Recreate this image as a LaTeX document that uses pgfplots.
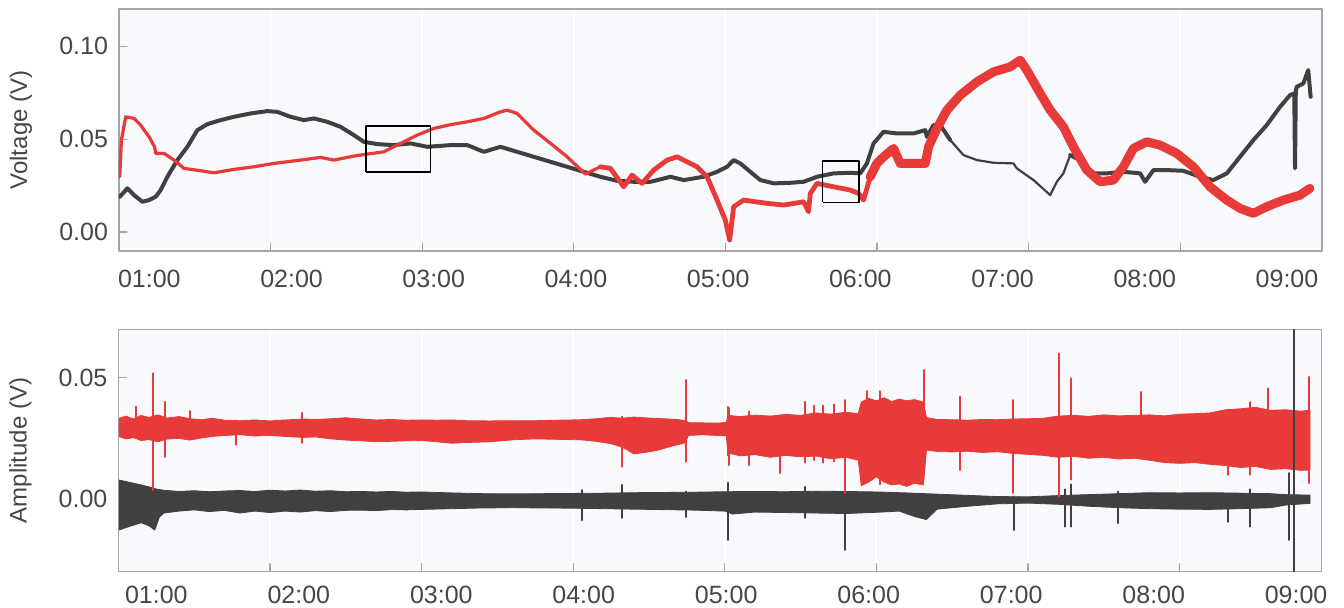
\documentclass[border=0pt]{standalone}
\usepackage{fontspec}
\setmainfont{Liberation Sans}
\usepackage{pgfplots}
\pgfplotsset{compat=1.18}

\definecolor{trace1}{RGB}{233,58,58}
\definecolor{trace2}{RGB}{64,64,64}
\definecolor{framec}{RGB}{165,165,165}
\definecolor{bgc}{RGB}{248,249,252}
\definecolor{txt}{RGB}{70,70,70}

\pgfplotsset{
  panel/.style={
    scale only axis, width=601.5pt,
    anchor=south west,
    xmin=1, xmax=8.935,
    axis background/.style={fill=bgc},
    axis line style={draw=framec, line width=0.6pt},
    tick style={draw=framec, line width=0.6pt},
    tick align=inside, xtick pos=bottom, ytick pos=left,
    major tick length=4pt,
    scaled ticks=false,
    xtick={2,...,8}, xticklabels={,,,,,,},
    xmajorgrids, major grid style={white, line width=1pt},
    extra x tick style={grid=none, major tick length=0pt, tick style={draw=none}},
    extra x tick labels={01:00,02:00,03:00,04:00,05:00,06:00,07:00,08:00,09:00},
    /pgf/number format/assume math mode=true,
    ticklabel style={font=\fontsize{12.5}{14}\selectfont, text=txt},
    yticklabel style={anchor=east, inner sep=0pt, xshift=-5.3pt},
    label style={font=\fontsize{12}{14}\selectfont, text=txt},
    ylabel style={at={(axis description cs:-0.0815,0.5)}, anchor=center},
    line join=round, line cap=round,
  },
}

\begin{document}
\begin{tikzpicture}
\path[use as bounding box] (0,0) rectangle (672pt,303.5pt);

% ---------------- voltage ----------------
\begin{axis}[panel,
  at={(59.5pt,178pt)}, height=121pt,
  ymin=-0.0102, ymax=0.12,
  ytick={0,0.05,0.1}, yticklabels={0.00,0.05,0.10},
  extra x ticks={1.200,2.138,3.076,4.014,4.952,5.890,6.828,7.766,8.704},
  xticklabel style={anchor=center, yshift=-14pt},
  ylabel={Voltage (V)},
]
% channel 2 (dark)
\addplot[trace2, line width=2pt] coordinates {
(1.005,0.01898) (1.055,0.02349) (1.099,0.01989) (1.154,0.01629) (1.198,0.0172)
(1.242,0.01898) (1.275,0.02258) (1.319,0.02973) (1.385,0.03871) (1.451,0.04586)
(1.517,0.05484) (1.583,0.05806) (1.670,0.06021) (1.758,0.06199) (1.868,0.06381)
(1.978,0.06505) (2.044,0.06467) (2.132,0.06199) (2.220,0.06021) (2.285,0.06113)
(2.374,0.0593) (2.461,0.05661) (2.549,0.05215) (2.615,0.04855) (2.703,0.04731)
(2.813,0.04677) (2.923,0.04769) (3.033,0.04586) (3.187,0.04677) (3.297,0.04677)
(3.406,0.04317) (3.516,0.04586) (3.626,0.04317) (3.736,0.04048) (3.846,0.03779)
(3.956,0.03511) (4.065,0.03242) (4.175,0.02973) (4.285,0.02758) (4.395,0.02704)
(4.505,0.02704) (4.637,0.02973) (4.725,0.02796) (4.856,0.02973) (4.945,0.03242)
(5.011,0.03511) (5.054,0.03871) (5.098,0.03693) (5.164,0.03242) (5.230,0.02796)
(5.318,0.02618) (5.428,0.0265) (5.516,0.02704) (5.604,0.02973) (5.713,0.03156)
(5.823,0.03188) (5.889,0.03156) (5.933,0.03693) (5.977,0.04769) (6.043,0.05392)
(6.131,0.05306) (6.241,0.05306) (6.318,0.05484) (6.329,0.05123) (6.372,0.05752)
(6.417,0.05752) (6.483,0.04946)
};
\addplot[trace2, line width=1.1pt] coordinates {
(6.483,0.04946) (6.570,0.0414) (6.659,0.03871) (6.768,0.03726) (6.900,0.03693)
(6.922,0.03425) (7.032,0.02796) (7.142,0.01989) (7.186,0.02704) (7.229,0.03156)
(7.274,0.0414)
};
\addplot[trace2, line width=2pt] coordinates {
(7.274,0.0414) (7.339,0.03871) (7.427,0.03156) (7.515,0.03156) (7.625,0.03242)
(7.735,0.03156) (7.768,0.02704) (7.823,0.03333) (7.911,0.03333) (8.020,0.03296)
(8.130,0.02973) (8.218,0.02796) (8.307,0.03156) (8.394,0.04048) (8.482,0.04946)
(8.570,0.05752) (8.658,0.06736) (8.724,0.07365) (8.752,0.07457) (8.757,0.03425)
(8.762,0.07600) (8.768,0.07811) (8.812,0.07994) (8.844,0.08709) (8.860,0.07274)
};
% channel 1 (red)
\addplot[trace1, line width=1.6pt] coordinates {
(1.005,0.02973) (1.016,0.04946) (1.044,0.06199) (1.099,0.06113) (1.143,0.05752)
(1.198,0.05123) (1.235,0.04586) (1.242,0.04231) (1.297,0.04231) (1.363,0.03871)
(1.428,0.03425) (1.539,0.03296) (1.626,0.03188) (1.758,0.03371) (1.890,0.03511)
(2.022,0.03693) (2.198,0.03871) (2.330,0.04016) (2.417,0.03871) (2.549,0.04086)
(2.637,0.04193) (2.747,0.04317) (2.857,0.04769) (2.967,0.05215) (3.076,0.05575)
(3.187,0.05779) (3.297,0.0593) (3.406,0.06113) (3.516,0.06467) (3.560,0.06559)
(3.626,0.06381) (3.736,0.05484) (3.846,0.04769) (3.956,0.04048) (4.076,0.03118)
(4.175,0.03511)
};
\addplot[trace1, line width=2.4pt] coordinates {
(4.175,0.03511) (4.241,0.03425) (4.329,0.02435) (4.384,0.03064) (4.450,0.02618)
(4.527,0.03333) (4.615,0.03871) (4.681,0.04048) (4.747,0.03779) (4.813,0.03511)
(4.879,0.02973) (4.945,0.0172) (4.999,0.00645) (5.028,-0.0043) (5.054,0.0136)
(5.120,0.0172) (5.274,0.01543) (5.384,0.01452) (5.516,0.01629) (5.548,0.01091)
(5.560,0.0208) (5.604,0.02618) (5.713,0.02435) (5.823,0.02258) (5.878,0.0208)
(5.911,0.0172) (5.955,0.02973)
};
\addplot[trace1, line width=4.5pt] coordinates {
(5.955,0.02973) (5.999,0.03693) (6.043,0.04048) (6.109,0.045) (6.153,0.03693)
(6.241,0.03693) (6.318,0.03693) (6.340,0.04586) (6.395,0.05575) (6.461,0.06559)
(6.549,0.07365) (6.659,0.0808) (6.768,0.08618) (6.878,0.08887) (6.944,0.09247)
(6.988,0.08709) (7.076,0.07457) (7.142,0.06559) (7.229,0.05661) (7.295,0.04586)
(7.384,0.03333) (7.472,0.02704) (7.559,0.02796) (7.625,0.03511) (7.691,0.045)
(7.779,0.04855) (7.867,0.04677) (7.977,0.04231) (8.086,0.03511) (8.196,0.02435)
(8.307,0.0172) (8.394,0.01274) (8.482,0.01005) (8.570,0.0136) (8.680,0.0172)
(8.790,0.01989) (8.855,0.02349)
};
% zoom boxes
\addplot[black, line width=0.8pt, line cap=butt] coordinates {
(2.631,0.0324) (3.055,0.0324) (3.055,0.057) (2.631,0.057) (2.631,0.0324)};
\addplot[black, line width=0.8pt, line cap=butt] coordinates {
(5.641,0.016) (5.881,0.016) (5.881,0.0382) (5.641,0.0382) (5.641,0.016)};
\end{axis}

% ---------------- amplitude ----------------
\begin{axis}[panel,
  at={(59.2pt,17.65pt)}, height=121.2pt,
  ymin=-0.03, ymax=0.07,
  ytick={0,0.05}, yticklabels={0.00,0.05},
  extra x ticks={1.250,2.190,3.130,4.069,5.009,5.949,6.889,7.829,8.768},
  xticklabel style={anchor=center, yshift=-11.5pt},
  ylabel={Amplitude (V)},
]
% channel 2 envelope (upper, then lower reversed)
\addplot[draw=trace2, line width=0.4pt, fill=trace2] coordinates {
(1.005,0.0078) (1.05,0.0072) (1.10,0.0065) (1.15,0.0058) (1.20,0.0050) (1.25,0.0041)
(1.30,0.0036) (1.40,0.0031) (1.50,0.0034) (1.60,0.0030) (1.70,0.0033) (1.80,0.0035)
(1.90,0.0031) (2.00,0.0036) (2.10,0.0033) (2.20,0.0037) (2.30,0.0032) (2.40,0.0034)
(2.50,0.0030) (2.60,0.0031) (2.70,0.0029) (2.80,0.0031) (2.90,0.0028) (3.00,0.0029)
(3.20,0.0025) (3.40,0.0022) (3.60,0.0021) (3.80,0.0022) (4.00,0.0023) (4.20,0.0024)
(4.40,0.0026) (4.60,0.0027) (4.80,0.0028) (5.00,0.0030) (5.20,0.0031) (5.40,0.0030)
(5.60,0.0032) (5.80,0.0031) (6.00,0.0029) (6.20,0.0025) (6.40,0.0020) (6.60,0.0015)
(6.80,0.0010) (7.00,0.0009) (7.20,0.0014) (7.40,0.0018) (7.60,0.0022) (7.80,0.0026)
(8.00,0.0025) (8.20,0.0026) (8.40,0.0024) (8.60,0.0022) (8.70,0.0018) (8.86,0.0016)
(8.86,-0.0018) (8.70,-0.0025) (8.60,-0.0036) (8.40,-0.0040) (8.20,-0.0043) (8.00,-0.0042)
(7.80,-0.0040) (7.60,-0.0036) (7.40,-0.0030) (7.20,-0.0022) (7.00,-0.0017) (6.80,-0.0020)
(6.60,-0.0030) (6.40,-0.0042) (6.33,-0.0085) (6.25,-0.0072) (6.15,-0.0050) (6.00,-0.0055)
(5.80,-0.0060) (5.60,-0.0058) (5.40,-0.0056) (5.20,-0.0054) (5.05,-0.0062) (5.00,-0.0050)
(4.80,-0.0046) (4.60,-0.0044) (4.40,-0.0042) (4.20,-0.0040) (4.00,-0.0038) (3.80,-0.0037)
(3.60,-0.0036) (3.40,-0.0037) (3.20,-0.0040) (3.00,-0.0043) (2.90,-0.0045) (2.80,-0.0044)
(2.70,-0.0048) (2.60,-0.0046) (2.50,-0.0047) (2.40,-0.0052) (2.30,-0.0048) (2.20,-0.0054)
(2.10,-0.0050) (2.00,-0.0056) (1.90,-0.0050) (1.80,-0.0058) (1.70,-0.0047) (1.60,-0.0052)
(1.50,-0.0045) (1.40,-0.0050) (1.30,-0.0058) (1.27,-0.0075) (1.24,-0.0128) (1.20,-0.0110)
(1.15,-0.0098) (1.10,-0.0108) (1.05,-0.0118) (1.005,-0.0128) (1.005,0.0078)
};
% channel 1 envelope
\addplot[draw=trace1, line width=0.4pt, fill=trace1] coordinates {
(1.005,0.0333) (1.05,0.0342) (1.10,0.0330) (1.15,0.0345) (1.20,0.0336) (1.26,0.0347)
(1.32,0.0334) (1.40,0.0340) (1.47,0.0331) (1.55,0.0327) (1.62,0.0333) (1.70,0.0325)
(1.80,0.0323) (1.90,0.0326) (2.00,0.0322) (2.10,0.0326) (2.22,0.0330) (2.30,0.0328)
(2.40,0.0331) (2.50,0.0335) (2.60,0.0330) (2.70,0.0326) (2.80,0.0328) (2.90,0.0325)
(3.00,0.0326) (3.10,0.0325) (3.20,0.0326) (3.30,0.0323) (3.45,0.0322) (3.60,0.0323)
(3.75,0.0323) (3.90,0.0325) (4.05,0.0327) (4.15,0.0331) (4.25,0.0337) (4.32,0.0333)
(4.40,0.0338) (4.50,0.0334) (4.60,0.0331) (4.70,0.0327) (4.745,0.0322) (4.76,0.0315)
(4.85,0.0314) (4.95,0.0313) (5.01,0.0316) (5.02,0.0345) (5.10,0.0340) (5.20,0.0346)
(5.30,0.0342) (5.40,0.0349) (5.50,0.0345) (5.60,0.0355) (5.70,0.0350) (5.80,0.0358)
(5.88,0.0352) (5.90,0.0400) (5.95,0.0415) (6.00,0.0405) (6.05,0.0418) (6.10,0.0402)
(6.15,0.0412) (6.20,0.0405) (6.25,0.0410) (6.31,0.0400) (6.33,0.0336) (6.40,0.0328)
(6.50,0.0327) (6.60,0.0325) (6.70,0.0328) (6.80,0.0327) (6.90,0.0330) (7.00,0.0331)
(7.10,0.0333) (7.20,0.0342) (7.30,0.0345) (7.40,0.0341) (7.50,0.0347) (7.60,0.0343)
(7.70,0.0345) (7.80,0.0347) (7.90,0.0343) (8.00,0.0350) (8.10,0.0352) (8.20,0.0355)
(8.30,0.0368) (8.40,0.0372) (8.50,0.0378) (8.60,0.0366) (8.70,0.0368) (8.80,0.0362)
(8.86,0.0367)
(8.86,0.0120) (8.80,0.0118) (8.70,0.0125) (8.60,0.0122) (8.50,0.0134) (8.40,0.0130)
(8.30,0.0138) (8.20,0.0143) (8.10,0.0150) (8.00,0.0147) (7.90,0.0150) (7.80,0.0160)
(7.70,0.0168) (7.60,0.0165) (7.50,0.0172) (7.40,0.0168) (7.30,0.0176) (7.20,0.0172)
(7.10,0.0180) (7.00,0.0184) (6.90,0.0188) (6.80,0.0195) (6.70,0.0192) (6.60,0.0197)
(6.50,0.0194) (6.40,0.0196) (6.33,0.0202) (6.31,0.0058) (6.25,0.0065) (6.20,0.0052)
(6.15,0.0062) (6.10,0.0058) (6.05,0.0070) (6.00,0.0092) (5.95,0.0070) (5.90,0.0055)
(5.88,0.0160) (5.80,0.0172) (5.70,0.0166) (5.60,0.0177) (5.50,0.0174) (5.40,0.0180)
(5.30,0.0172) (5.20,0.0183) (5.10,0.0178) (5.02,0.0190) (5.01,0.0260) (4.95,0.0262)
(4.85,0.0265) (4.76,0.0262) (4.74,0.0232) (4.65,0.0218) (4.55,0.0200) (4.45,0.0190)
(4.40,0.0186) (4.33,0.0212) (4.25,0.0228) (4.15,0.0238) (4.05,0.0244) (3.90,0.0246)
(3.75,0.0248) (3.60,0.0244) (3.45,0.0236) (3.30,0.0233) (3.20,0.0230) (3.10,0.0236)
(3.00,0.0241) (2.90,0.0240) (2.80,0.0238) (2.70,0.0236) (2.60,0.0240) (2.50,0.0243)
(2.40,0.0248) (2.30,0.0256) (2.22,0.0254) (2.10,0.0258) (2.00,0.0262) (1.90,0.0260)
(1.80,0.0265) (1.70,0.0262) (1.62,0.0258) (1.55,0.0252) (1.47,0.0243) (1.40,0.0250)
(1.32,0.0247) (1.26,0.0236) (1.20,0.0245) (1.15,0.0241) (1.10,0.0253) (1.05,0.0248)
(1.005,0.0257) (1.005,0.0333)
};
% channel 1 spikes
\addplot[trace1, line width=1pt, unbounded coords=jump] coordinates {
(1.117,0.0381) (1.117,0.030) (1.117,nan)
(1.231,0.0518) (1.231,0.0037) (1.231,nan)
(1.308,0.0401) (1.308,0.0174) (1.308,nan)
(1.473,0.0363) (1.473,0.030) (1.473,nan)
(1.776,0.030) (1.776,0.0223) (1.776,nan)
(2.211,0.0355) (2.211,0.0231) (2.211,nan)
(4.322,0.034) (4.322,0.0133) (4.322,nan)
(4.747,0.0490) (4.747,0.0154) (4.747,nan)
(5.019,0.0380) (5.019,0.0180) (5.019,nan)
(5.028,0.0375) (5.028,0.0140) (5.028,nan)
(5.160,0.0360) (5.160,0.0140) (5.160,nan)
(5.362,0.034) (5.362,0.0107) (5.362,nan)
(5.527,0.0401) (5.527,0.0150) (5.527,nan)
(5.590,0.0385) (5.590,0.0160) (5.590,nan)
(5.645,0.0385) (5.645,0.0150) (5.645,nan)
(5.720,0.0390) (5.720,0.0155) (5.720,nan)
(5.790,0.0408) (5.790,0.0025) (5.790,nan)
(5.940,0.0445) (5.940,0.020) (5.940,nan)
(6.021,0.0445) (6.021,0.006) (6.021,nan)
(6.315,0.0532) (6.315,0.025) (6.315,nan)
(6.549,0.0422) (6.549,0.0120) (6.549,nan)
(6.898,0.0408) (6.898,0.0025) (6.898,nan)
(7.201,0.0601) (7.201,0.0010) (7.201,nan)
(7.280,0.0498) (7.280,0.0080) (7.280,nan)
(7.748,0.0442) (7.748,0.020) (7.748,nan)
(8.321,0.036) (8.321,0.0099) (8.321,nan)
(8.467,0.040) (8.467,0.010) (8.467,nan)
(8.580,0.0456) (8.580,0.015) (8.580,nan)
(8.851,0.0504) (8.851,0.0065)
};
% channel 2 spikes
\addplot[trace2, line width=1pt, unbounded coords=jump] coordinates {
(4.061,0.0037) (4.061,-0.0087) (4.061,nan)
(4.322,0.0058) (4.322,-0.0078) (4.322,nan)
(4.747,0.003) (4.747,-0.0074) (4.747,nan)
(5.019,0.0066) (5.019,-0.0169) (5.019,nan)
(5.527,0.005) (5.527,-0.0078) (5.527,nan)
(5.790,0.0) (5.790,-0.0210) (5.790,nan)
(6.904,0.001) (6.904,-0.0128) (6.904,nan)
(7.244,0.004) (7.244,-0.0114) (7.244,nan)
(7.280,0.006) (7.280,-0.0114) (7.280,nan)
(7.596,0.003) (7.596,-0.0100) (7.596,nan)
(8.321,0.001) (8.321,-0.0094) (8.321,nan)
(8.467,0.004) (8.467,-0.0114) (8.467,nan)
(8.724,0.0107) (8.724,-0.0169) (8.724,nan)
(8.752,0.08) (8.752,-0.04)
};
\end{axis}
\end{tikzpicture}
\end{document}
